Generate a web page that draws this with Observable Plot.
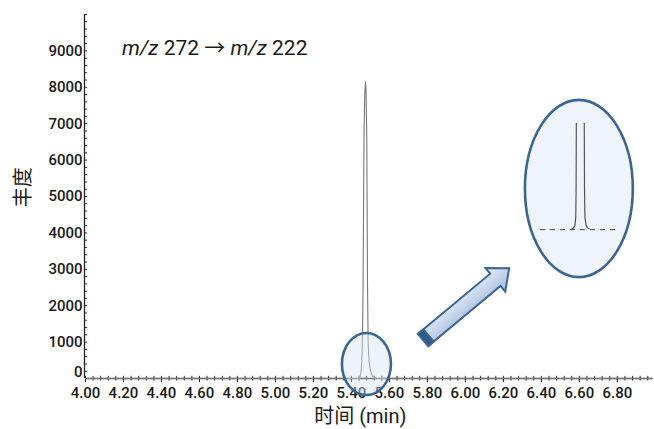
<!DOCTYPE html>
<html><head><meta charset="utf-8">
<script src="https://cdn.jsdelivr.net/npm/d3@7"></script>
<script src="https://cdn.jsdelivr.net/npm/@observablehq/plot@0.6"></script>
<style>
body{margin:0;background:#fff;}
#chart{position:relative;width:654px;height:429px;overflow:hidden;}
#chart svg{position:absolute;}
</style></head><body><div id="chart"></div>
<script>
// ---- data ----
const peakTime      = [4.00, 5.400, 5.440, 5.446, 5.451, 5.455, 5.458, 5.4616, 5.466, 5.470, 5.474, 5.477, 5.481, 5.4845, 5.488, 5.492, 5.497, 5.504, 5.512, 5.525, 5.540, 6.985];
const peakIntensity = [0,    0,     0,     40,    220,   550,   1000,  2700,   6500,  7800,  8150,  7900,  6500,  2700,   1000,  550,   300,   150,   60,    15,    0,     0];
// zoomed inset (0–1000 counts window)
const insetTime      = [5.462, 5.467, 5.470, 5.4715, 5.4722, 5.4728, 5.4886, 5.4892, 5.4900, 5.4925, 5.4955, 5.501];
const insetIntensity = [0,     15,    40,    120,    400,    1200,   1200,   400,    120,    40,     15,     0];
const xTickLabels = [4.00, 4.20, 4.40, 4.60, 4.80, 5.00, 5.20, 5.40, 5.60, 5.80, 6.00, 6.20, 6.40, 6.60, 6.80];
const yTickLabels = [1000, 2000, 3000, 4000, 5000, 6000, 7000, 8000, 9000];
const xMinorTicks = d3.range(4, 6.99, 0.04);
const yMinorTicks = d3.range(0, 10001, 200);
const titleParts = [["m/z", true], [" 272 → ", false], ["m/z", true], [" 222", false]];
const yLabel = "丰度";
const xLabel = "时间 (min)";

const peak = peakTime.map((t, i) => ({t, v: peakIntensity[i]}));
const inset = insetTime.map((t, i) => ({t, v: insetIntensity[i]}));

// annotation geometry in data units
const smallEllipse = {cx: 5.4816, cy: 385, hx: 0.129, hy: 853};
const bigEllipse = {cx: 6.60, cy: 5206, hx: 0.284, hy: 2435};
const arrowFrom = {t: 5.7805, v: 1044}, arrowTo = {t: 6.233, v: 3014};
const insetWindow = {t0: 6.395, t1: 6.8105, v0: 4099, v1: 7015};

const FONT = "Roboto, 'Noto Sans CJK SC', sans-serif";
const BLUE = "#3b6693";
const INK = "#1a1a1a";

function ellipseMark(e, fill, opacity) {
  return (index, scales) => {
    const cx = scales.x(e.cx), cy = scales.y(e.cy);
    const rx = Math.abs(scales.x(e.cx + e.hx) - cx), ry = Math.abs(scales.y(e.cy + e.hy) - cy);
    const g = d3.create("svg:g");
    g.append("ellipse").attr("cx", cx).attr("cy", cy).attr("rx", rx).attr("ry", ry)
      .attr("fill", fill).attr("fill-opacity", opacity).attr("stroke", BLUE).attr("stroke-width", 2.6);
    return g.node();
  };
}

function arrowMark(index, scales) {
  const x0 = scales.x(arrowFrom.t), y0 = scales.y(arrowFrom.v);
  const x1 = scales.x(arrowTo.t), y1 = scales.y(arrowTo.v);
  const L = Math.hypot(x1 - x0, y1 - y0);
  const ang = Math.atan2(y1 - y0, x1 - x0) * 180 / Math.PI;
  const sw = 8, hw = 15.5, hl = 18;
  const g = d3.create("svg:g").attr("transform", `translate(${x0},${y0}) rotate(${ang})`);
  const grad = g.append("defs").append("linearGradient").attr("id", "arrowGrad")
    .attr("x1", 0).attr("y1", 0).attr("x2", 0).attr("y2", 1);
  grad.append("stop").attr("offset", "0%").attr("stop-color", "#e8eef8");
  grad.append("stop").attr("offset", "100%").attr("stop-color", "#a6bbdf");
  const pts = [[0, -sw], [L - hl, -sw], [L - hl, -hw], [L, 0], [L - hl, hw], [L - hl, sw], [0, sw]];
  g.append("polygon").attr("points", pts.map(p => p.join(",")).join(" "))
    .attr("fill", "url(#arrowGrad)").attr("stroke", BLUE).attr("stroke-width", 2).attr("stroke-linejoin", "miter");
  g.append("rect").attr("x", 0).attr("y", -sw).attr("width", 7).attr("height", 2 * sw)
    .attr("fill", "#2f5b8b").attr("stroke", BLUE).attr("stroke-width", 2);
  return g.node();
}

function titleMark(index, scales) {
  const t = d3.create("svg:text").attr("x", scales.x(4.195)).attr("y", scales.y(9070))
    .attr("dy", "0.32em").attr("font-size", 21).attr("fill", INK).attr("font-family", FONT)
    .attr("text-anchor", "start");
  for (const [s, it] of titleParts) t.append("tspan").attr("font-style", it ? "italic" : "normal").text(s);
  return t.node();
}

const chart = Plot.plot({
  width: 654, height: 429,
  marginLeft: 85, marginRight: 2, marginTop: 14, marginBottom: 51,
  style: {fontFamily: FONT, fontSize: "15px", color: INK, background: "white"},
  x: {domain: [4, 6.985]},
  y: {domain: [0, 10000]},
  marks: [
    Plot.ruleY(yMinorTicks, {y: d => d, x1: 4, x2: 4.011, stroke: "#333", strokeWidth: 1}),
    Plot.ruleX(xMinorTicks, {x: d => d, y1: -70, y2: 60, stroke: "#333", strokeWidth: 1}),
    Plot.axisX({ticks: xTickLabels, tickSize: 4, tickPadding: 5, tickFormat: d => d.toFixed(2), label: null, fontSize: 15, fontWeight: 500}),
    Plot.axisY({ticks: yTickLabels, tickSize: 0, tickPadding: 3, tickFormat: d => String(d), label: null, fontSize: 15, fontWeight: 500}),
    Plot.text([0], {y: d => d, frameAnchor: "left", dx: -3, dy: -6, textAnchor: "end", text: d => String(d), fontSize: 15, fontWeight: 500}),
    Plot.ruleY([0], {stroke: "#222", strokeWidth: 1.3}),
    Plot.ruleX([4], {y1: 0, y2: 10000, stroke: "#222", strokeWidth: 1.3, dx: -1}),
    Plot.line(peak, {x: "t", y: "v", stroke: "#777", strokeWidth: 1.1}),
    ellipseMark(smallEllipse, "#d6e4f2", 0.45),
    ellipseMark(bigEllipse, "#eff4fa", 1),
    arrowMark,
    titleMark,
    Plot.text([yLabel], {frameAnchor: "left", y: 4704, dx: -62, rotate: -90, fontSize: 20, text: d => d}),
    Plot.text([xLabel], {x: 5.447, frameAnchor: "bottom", lineAnchor: "middle", dy: 38, fontSize: 20, text: d => d})
  ]
});
const root = document.getElementById("chart");
root.appendChild(chart);

// inset overlay, positioned from the main plot's scales
const sx = chart.scale("x"), sy = chart.scale("y");
const pad = 4;
const ix0 = sx.apply(insetWindow.t0), ix1 = sx.apply(insetWindow.t1);
const iy0 = sy.apply(insetWindow.v0), iy1 = sy.apply(insetWindow.v1);
const insetPlot = Plot.plot({
  width: ix1 - ix0 + 2 * pad, height: iy0 - iy1 + 2 * pad,
  margin: pad,
  style: {background: "transparent"},
  x: {domain: [5.40, 5.56], axis: null},
  y: {domain: [0, 1000], axis: null},
  marks: [
    Plot.ruleY([0], {stroke: "#444", strokeWidth: 1, strokeDasharray: "5,5"}),
    Plot.line(inset, {x: "t", y: "v", stroke: "#555", strokeWidth: 1.2, clip: true})
  ]
});
insetPlot.style.left = (ix0 - pad) + "px";
insetPlot.style.top = (iy1 - pad) + "px";
root.appendChild(insetPlot);
</script></body></html>
